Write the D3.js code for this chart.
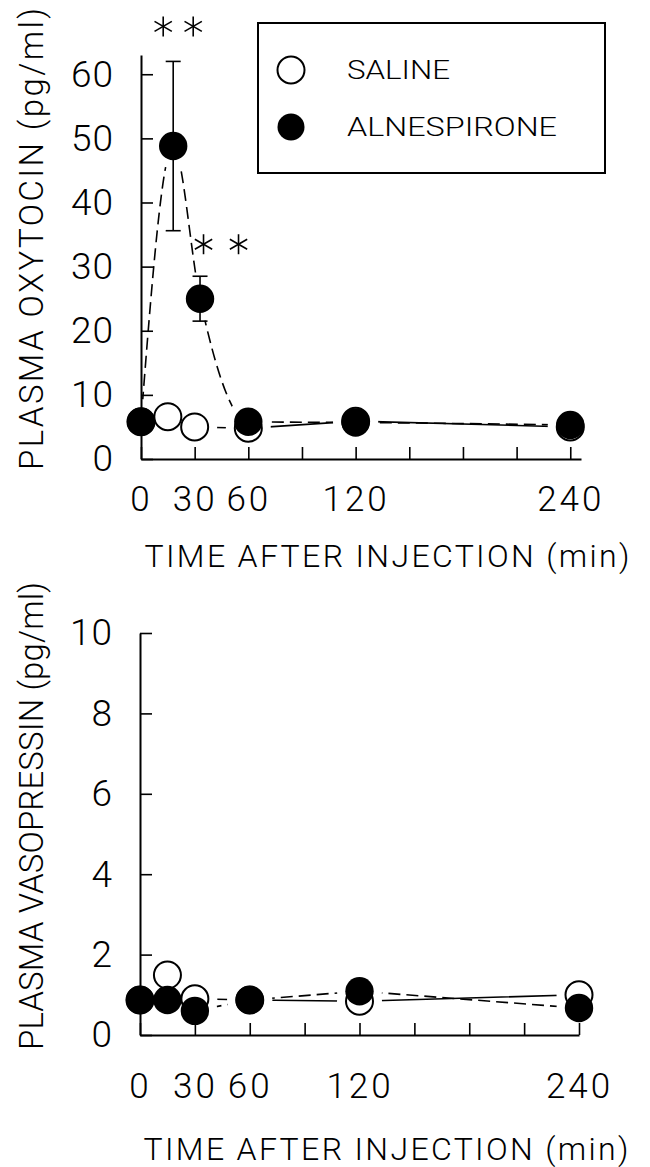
<!DOCTYPE html>
<html>
<head>
<meta charset="utf-8">
<script src="https://cdn.jsdelivr.net/npm/d3@7"></script>
<style>
  body { margin: 0; background: #fff; }
  text { font-family: Roboto, "Liberation Sans", sans-serif; font-weight: 300; fill: #000; }
</style>
</head>
<body>
<svg id="chart" width="650" height="1167"></svg>
<script>
// time points (min)
var times = [0, 15, 30, 60, 120, 240];
var oxyTimesAlnes = [0, 18, 33, 60, 120, 240]; // plotted slightly right in the original
var xTicks = [0, 30, 60, 90, 120, 150, 180, 210, 240];
var xLabels = [0, 30, 60, 120, 240];

// plasma oxytocin (pg/ml)
var oxySaline = [5.8, 6.6, 5.0, 4.8, 5.9, 5.0];
var oxyAlnes = [5.8, 48.8, 25.0, 5.8, 5.7, 5.3];
var oxyAlnesSem = [0, 13.2, 3.5, 0, 0, 0];
var oxyTicks = [0, 10, 20, 30, 40, 50, 60];
var oxyStars = [false, true, true, false, false, false];

// plasma vasopressin (pg/ml)
var vpSaline = [0.87, 1.49, 0.90, 0.87, 0.84, 1.00];
var vpAlnes = [0.87, 0.87, 0.60, 0.87, 1.09, 0.67];
var vpTicks = [0, 2, 4, 6, 8, 10];

var legendLabels = ["SALINE", "ALNESPIRONE"];

var svg = d3.select("#chart");
var R = 13.5;

function drawPanel(p) {
    var g = svg.append("g");
    var x = d3.scaleLinear().domain(p.xDomain).range(p.xRange);
    var y = d3.scaleLinear().domain(p.yDomain).range(p.yRange);

    // axes
    var gx = g.append("g")
        .attr("transform", "translate(0," + y(0) + ")")
        .call(d3.axisBottom(x).tickValues(xTicks).tickSize(-12).tickSizeOuter(0)
            .tickPadding(p.xPad)
            .tickFormat(function(d) { return xLabels.indexOf(d) >= 0 ? d : ""; }));
    var gy = g.append("g")
        .attr("transform", "translate(" + x(0) + ",0)")
        .call(d3.axisLeft(y).tickValues(p.yTicks).tickSize(-12).tickSizeOuter(0).tickPadding(27));
    [gx, gy].forEach(function(a) {
        a.attr("font-family", null).attr("font-size", null);
        a.select(".domain").attr("stroke", "#000").attr("stroke-width", 2);
        a.selectAll(".tick line").attr("stroke", "#000").attr("stroke-width", 1.6);
    });
    gx.selectAll("text").style("font-size", "35px").style("letter-spacing", "3px");
    gy.selectAll("text").style("font-size", "37px").style("letter-spacing", "1px");

    // connecting lines, cut back around the symbols
    var maskId = "m" + p.id;
    var mask = svg.append("defs").append("mask").attr("id", maskId);
    mask.append("rect").attr("width", 650).attr("height", 1167).attr("fill", "#fff");
    var pts = [];
    p.saline.forEach(function(v, i) { pts.push([x(times[i]), y(v)]); });
    p.alnes.forEach(function(v, i) { pts.push([x(p.alnesTimes[i]), y(v)]); });
    mask.selectAll("circle").data(pts).enter().append("circle")
        .attr("cx", function(d) { return d[0]; })
        .attr("cy", function(d) { return d[1]; })
        .attr("r", R + 9).attr("fill", "#000");

    var lines = g.append("g").attr("mask", "url(#" + maskId + ")");
    lines.append("path")
        .attr("d", d3.line().x(function(d, i) { return x(times[i]); }).y(function(d) { return y(d); })(p.saline))
        .attr("fill", "none").attr("stroke", "#000").attr("stroke-width", 1.6);
    lines.append("path")
        .attr("d", d3.line().curve(p.alnesCurve)
            .x(function(d, i) { return x(p.alnesTimes[i]); }).y(function(d) { return y(d); })(p.alnes))
        .attr("fill", "none").attr("stroke", "#000").attr("stroke-width", 1.6)
        .attr("stroke-dasharray", "12,6");

    // error bars
    if (p.sem) {
        p.alnes.forEach(function(v, i) {
            if (!p.sem[i]) return;
            var cx = x(p.alnesTimes[i]);
            var y1 = y(v + p.sem[i]), y2 = y(v - p.sem[i]);
            g.append("line").attr("x1", cx).attr("x2", cx).attr("y1", y1).attr("y2", y2)
                .attr("stroke", "#000").attr("stroke-width", 1.6);
            [y1, y2].forEach(function(yy) {
                g.append("line").attr("x1", cx - 7.5).attr("x2", cx + 7.5).attr("y1", yy).attr("y2", yy)
                    .attr("stroke", "#000").attr("stroke-width", 1.6);
            });
        });
    }

    // symbols: saline open behind, alnespirone filled on top
    g.selectAll(".sal").data(p.saline).enter().append("circle")
        .attr("cx", function(d, i) { return x(times[i]); })
        .attr("cy", function(d) { return y(d); })
        .attr("r", R).attr("fill", "#fff").attr("stroke", "#000").attr("stroke-width", 2);
    g.selectAll(".aln").data(p.alnes).enter().append("circle")
        .attr("cx", function(d, i) { return x(p.alnesTimes[i]); })
        .attr("cy", function(d) { return y(d); })
        .attr("r", R + 0.7).attr("fill", "#000");

    // significance stars
    if (p.stars) {
        p.stars.forEach(function(s, i) {
            if (!s) return;
            var cx = x(p.alnesTimes[i]) + p.starDx[i];
            var cy = y(p.alnes[i] + p.sem[i]) - p.starDy[i];
            [-1, 1].forEach(function(k) {
                var sx = cx + k * p.starGap[i] / 2;
                [90, 30, 150].forEach(function(a) {
                    var rad = a * Math.PI / 180, len = 10;
                    g.append("line")
                        .attr("x1", sx - len * Math.cos(rad)).attr("y1", cy - len * Math.sin(rad))
                        .attr("x2", sx + len * Math.cos(rad)).attr("y2", cy + len * Math.sin(rad))
                        .attr("stroke", "#000").attr("stroke-width", 1.6);
                });
            });
        });
    }

    // axis titles
    g.append("text")
        .attr("x", p.xTitle[0]).attr("y", p.xTitle[1])
        .attr("text-anchor", "middle").attr("textLength", 485).attr("lengthAdjust", "spacing")
        .style("font-size", "32px")
        .text("TIME AFTER INJECTION (min)");
    g.append("text")
        .attr("transform", "translate(" + p.yTitle[0] + "," + p.yTitle[1] + ") rotate(-90)")
        .attr("text-anchor", "middle").attr("textLength", p.yTitle[2]).attr("lengthAdjust", "spacing")
        .style("font-size", "33px")
        .text(p.yTitleText);

    return { x: x, y: y };
}

drawPanel({
    id: "top",
    xDomain: [0, 246], xRange: [141, 581],
    yDomain: [0, 63], yRange: [459, 55],
    yTicks: oxyTicks, xPad: 27,
    saline: oxySaline, alnes: oxyAlnes, alnesTimes: oxyTimesAlnes,
    alnesCurve: d3.curveMonotoneX,
    sem: oxyAlnesSem,
    stars: oxyStars, starDx: [0, 5, 21], starDy: [0, 35, 32], starGap: [0, 30, 35],
    xTitle: [387, 567],
    yTitle: [43, 239, 462], yTitleText: "PLASMA OXYTOCIN (pg/ml)"
});

drawPanel({
    id: "bottom",
    xDomain: [0, 240], xRange: [140, 579],
    yDomain: [0, 10], yRange: [1035, 633],
    yTicks: vpTicks, xPad: 38,
    saline: vpSaline, alnes: vpAlnes, alnesTimes: times,
    alnesCurve: d3.curveLinear,
    xTitle: [386, 1160],
    yTitle: [43, 816, 468], yTitleText: "PLASMA VASOPRESSIN (pg/ml)"
});

// legend
var lg = svg.append("g");
lg.append("rect").attr("x", 258).attr("y", 23).attr("width", 347).attr("height", 150)
    .attr("fill", "none").attr("stroke", "#000").attr("stroke-width", 2);
var ly = d3.scalePoint().domain(legendLabels).range([70, 127]);
var legendWidths = [103, 210];
legendLabels.forEach(function(name, i) {
    lg.append("circle").attr("cx", 291).attr("cy", ly(name)).attr("r", R)
        .attr("fill", i ? "#000" : "#fff").attr("stroke", "#000").attr("stroke-width", i ? 0 : 2);
    lg.append("text").attr("x", 347).attr("y", ly(name) + 9)
        .attr("textLength", legendWidths[i]).attr("lengthAdjust", "spacingAndGlyphs")
        .style("font-size", "25px")
        .text(name);
});
</script>
</body>
</html>
